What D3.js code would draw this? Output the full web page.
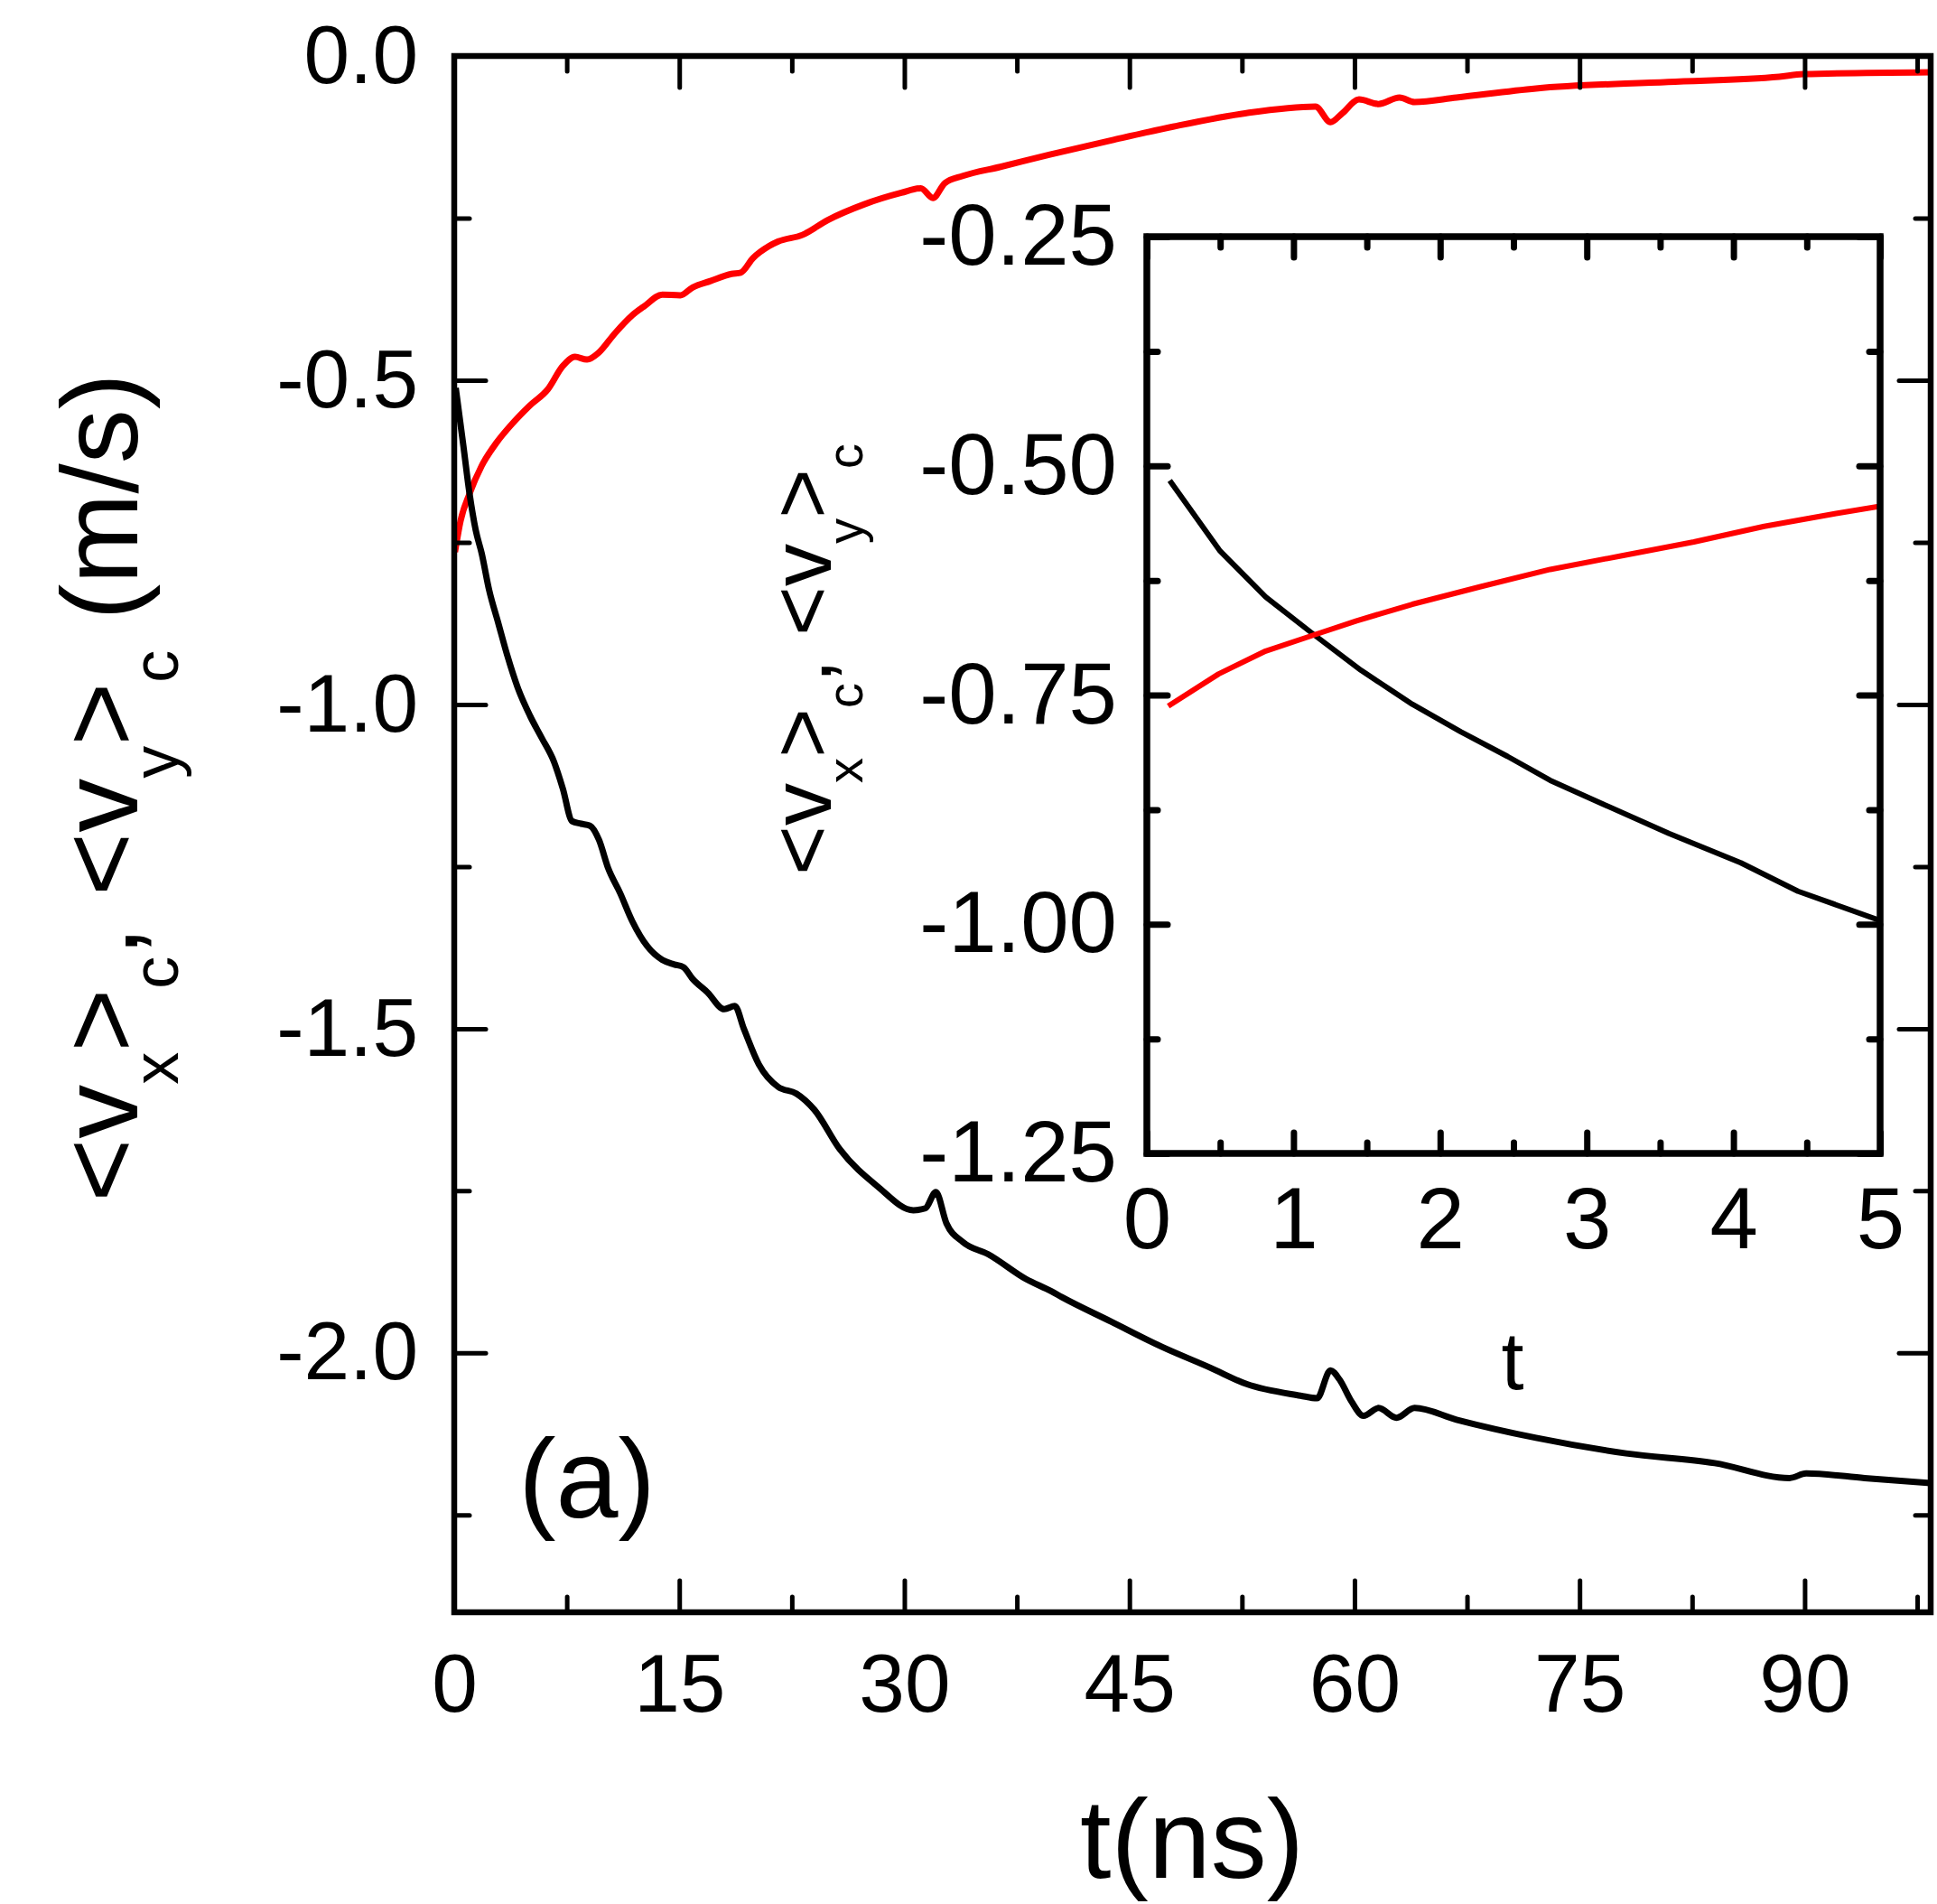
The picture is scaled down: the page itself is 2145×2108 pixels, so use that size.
<!DOCTYPE html>
<html>
<head>
<meta charset="utf-8">
<script src="https://cdn.jsdelivr.net/npm/d3@7"></script>
<style>
	body { margin: 0; background: #fff; }
	text { font-family: "Liberation Sans", Arial, sans-serif; fill: #000; }
</style>
</head>
<body>
<svg></svg>
<script>
// main curves, t in ns, velocity in m/s
const blackT = [0.1, 0.62, 1.02, 1.43, 1.83, 2.33, 2.93, 3.53, 4.23, 5.04, 5.84, 6.64, 7.24, 7.85, 8.45, 9.05, 9.65, 10.25, 11.06, 11.86, 12.87, 13.87, 14.67, 15.27, 15.88, 16.88, 18.0, 18.7, 19.3, 20.3, 21.6, 22.8, 24.0, 25.7, 28.2, 30.6, 31.4, 32.1, 32.8, 33.9, 35.6, 38.1, 39.8, 40.5, 43.8, 47.1, 50.4, 52.8, 56.4, 57.5, 58.4, 59.0, 59.8, 60.6, 61.6, 62.8, 64.0, 66.8, 72.1, 78.1, 84.0, 89.0, 90.1, 94.0, 98.4];
const blackV = [-0.512, -0.603, -0.675, -0.731, -0.767, -0.824, -0.874, -0.924, -0.974, -1.017, -1.052, -1.088, -1.13, -1.18, -1.184, -1.187, -1.209, -1.252, -1.291, -1.334, -1.373, -1.394, -1.401, -1.405, -1.423, -1.444, -1.47, -1.465, -1.5, -1.555, -1.59, -1.6, -1.625, -1.686, -1.743, -1.78, -1.777, -1.752, -1.8, -1.829, -1.848, -1.886, -1.905, -1.914, -1.952, -1.99, -2.023, -2.048, -2.066, -2.07, -2.027, -2.041, -2.075, -2.097, -2.085, -2.1, -2.085, -2.103, -2.131, -2.155, -2.17, -2.193, -2.186, -2.193, -2.201];
const redT = [0.05, 0.42, 1.02, 1.83, 2.83, 3.83, 5.04, 6.24, 7.24, 8.05, 8.85, 9.65, 10.66, 11.86, 12.66, 13.87, 15.07, 15.88, 17.08, 18.48, 19.1, 19.9, 21.0, 21.6, 23.2, 24.9, 27.3, 29.8, 31.1, 31.9, 32.7, 33.9, 36.4, 39.7, 43.8, 47.9, 52.8, 57.4, 58.4, 59.2, 60.3, 61.6, 63.0, 64.0, 66.8, 72.1, 80.9, 88.3, 89.9, 98.4];
const redV = [-0.765, -0.717, -0.675, -0.632, -0.596, -0.568, -0.539, -0.514, -0.478, -0.464, -0.468, -0.457, -0.429, -0.4, -0.386, -0.368, -0.369, -0.357, -0.347, -0.336, -0.334, -0.312, -0.293, -0.286, -0.276, -0.253, -0.229, -0.211, -0.204, -0.219, -0.196, -0.185, -0.171, -0.152, -0.13, -0.109, -0.088, -0.078, -0.102, -0.088, -0.067, -0.074, -0.064, -0.071, -0.064, -0.05, -0.04, -0.032, -0.028, -0.025];

// inset curves
const insetBlackT = [0.156, 0.5, 0.81, 1.13, 1.46, 1.81, 2.14, 2.46, 2.75, 3.11, 3.56, 4.05, 4.44, 5.0];
const insetBlackV = [-0.516, -0.593, -0.643, -0.683, -0.723, -0.76, -0.79, -0.817, -0.843, -0.869, -0.901, -0.933, -0.964, -0.996];
const insetRedT = [0.146, 0.49, 0.81, 1.13, 1.43, 1.81, 2.27, 2.75, 3.24, 3.73, 4.21, 4.7, 5.0];
const insetRedV = [-0.762, -0.727, -0.702, -0.685, -0.669, -0.651, -0.632, -0.613, -0.598, -0.583, -0.566, -0.552, -0.544];

// ticks
const mainXTicks = [0, 15, 30, 45, 60, 75, 90];
const mainXMinor = [7.5, 22.5, 37.5, 52.5, 67.5, 82.5, 97.5];
const mainYTicks = [0, -0.5, -1.0, -1.5, -2.0];
const mainYMinor = [-0.25, -0.75, -1.25, -1.75, -2.25];
const insetXTicks = [0, 1, 2, 3, 4, 5];
const insetXMinor = [0.5, 1.5, 2.5, 3.5, 4.5];
const insetYTicks = [-0.25, -0.5, -0.75, -1.0, -1.25];
const insetYMinor = [-0.375, -0.625, -0.875, -1.125];

const size = { w: 2145, h: 2108 };
const main = { l: 503, r: 2138, t: 62, b: 1785 };
const inset = { l: 1270, r: 2082, t: 262, b: 1277 };

const svg = d3.select("svg").attr("width", size.w).attr("height", size.h);
svg.append("rect").attr("width", size.w).attr("height", size.h).attr("fill", "#fff");

const zip = (ts, vs) => ts.map((t, i) => [t, vs[i]]);

function drawPanel(box, xDom, yDom, opt) {
	const g = svg.append("g");
	const x = d3.scaleLinear().domain(xDom).range([box.l, box.r]);
	const y = d3.scaleLinear().domain(yDom).range([box.b, box.t]);

	g.append("rect")
		.attr("x", box.l).attr("y", box.t)
		.attr("width", box.r - box.l).attr("height", box.b - box.t)
		.attr("fill", "#fff");

	const clipId = "clip" + opt.name;
	g.append("clipPath").attr("id", clipId).append("rect")
		.attr("x", box.l).attr("y", box.t)
		.attr("width", box.r - box.l).attr("height", box.b - box.t);

	const line = d3.line().curve(opt.curve).x((d) => x(d[0])).y((d) => y(d[1]));
	opt.series.forEach((s) => {
		g.append("path")
			.attr("clip-path", `url(#${clipId})`)
			.attr("d", line(s.data))
			.attr("fill", "none")
			.attr("stroke", s.color)
			.attr("stroke-width", opt.curveW)
			.attr("stroke-linejoin", "round");
	});

	// ticks on all four sides, pointing inward
	const axes = [
		{ a: d3.axisBottom(x), pos: `translate(0,${box.b})`, vals: opt.xTicks, minor: opt.xMinor, label: true },
		{ a: d3.axisTop(x), pos: `translate(0,${box.t})`, vals: opt.xTicks, minor: opt.xMinor, label: false },
		{ a: d3.axisLeft(y), pos: `translate(${box.l},0)`, vals: opt.yTicks, minor: opt.yMinor, label: true },
		{ a: d3.axisRight(y), pos: `translate(${box.r},0)`, vals: opt.yTicks, minor: opt.yMinor, label: false }
	];
	axes.forEach((ax, i) => {
		const isX = i < 2;
		const major = ax.a
			.tickValues(ax.vals)
			.tickSizeInner(-opt.majorLen)
			.tickSizeOuter(0)
			.tickPadding(isX ? opt.xPad : opt.yPad)
			.tickFormat(ax.label ? (isX ? opt.xFmt : opt.yFmt) : "");
		const ag = g.append("g").attr("transform", ax.pos).call(major);
		ag.select(".domain").remove();
		ag.selectAll("line").attr("stroke-width", opt.tickW).attr("stroke-linecap", "round");
		ag.selectAll("text")
			.attr("font-size", opt.fontSize)
			.attr("font-family", '"Liberation Sans", Arial, sans-serif')
			.attr("fill", "#000");

		const minorAxis = (i === 0 ? d3.axisBottom(x) : i === 1 ? d3.axisTop(x) : i === 2 ? d3.axisLeft(y) : d3.axisRight(y))
			.tickValues(ax.minor)
			.tickSizeInner(-opt.minorLen)
			.tickSizeOuter(0)
			.tickFormat("");
		const mg = g.append("g").attr("transform", ax.pos).call(minorAxis);
		mg.select(".domain").remove();
		mg.selectAll("line").attr("stroke-width", opt.tickW).attr("stroke-linecap", "round");
	});

	g.append("rect")
		.attr("x", box.l).attr("y", box.t)
		.attr("width", box.r - box.l).attr("height", box.b - box.t)
		.attr("fill", "none")
		.attr("stroke", "#000")
		.attr("stroke-width", opt.frameW);

	return { x, y, g };
}

drawPanel(main, [0, 98.4], [-2.4, 0], {
	name: "main",
	series: [
		{ data: zip(redT, redV), color: "#ff0000" },
		{ data: zip(blackT, blackV), color: "#000" }
	],
	curve: d3.curveMonotoneX,
	curveW: 7,
	xTicks: mainXTicks, xMinor: mainXMinor,
	yTicks: mainYTicks, yMinor: mainYMinor,
	majorLen: 35, minorLen: 17,
	tickW: 5, frameW: 6.5,
	fontSize: 91, xPad: 45, yPad: 40,
	xFmt: d3.format("d"), yFmt: d3.format(".1f")
});

drawPanel(inset, [0, 5], [-1.25, -0.25], {
	name: "inset",
	series: [
		{ data: zip(insetBlackT, insetBlackV), color: "#000" },
		{ data: zip(insetRedT, insetRedV), color: "#ff0000" }
	],
	curve: d3.curveLinear,
	curveW: 6,
	xTicks: insetXTicks, xMinor: insetXMinor,
	yTicks: insetYTicks, yMinor: insetYMinor,
	majorLen: 23, minorLen: 12,
	tickW: 7, frameW: 7.5,
	fontSize: 96, xPad: 37, yPad: 33,
	xFmt: d3.format("d"), yFmt: d3.format(".2f")
});

// hyphen-minus instead of the unicode minus d3 uses
svg.selectAll(".tick text").text(function () { return d3.select(this).text().replace("\u2212", "-"); });

// label with subscripts
function richLabel(x, y, rotate, parts, fs, subFs, shift) {
	const t = svg.append("text")
		.attr("transform", `translate(${x},${y}) rotate(${rotate})`)
		.attr("text-anchor", "middle")
		.attr("font-size", fs);
	let down = false;
	parts.forEach(([s, sub]) => {
		const sp = t.append("tspan").text(s).attr("font-size", sub ? subFs : fs);
		if (sub && !down) { sp.attr("dy", shift); down = true; }
		else if (!sub && down) { sp.attr("dy", -shift); down = false; }
	});
	return t;
}

const yParts = [["<v", false], ["x", true], [">", false], ["c", true], [", <v", false], ["y", true], [">", false], ["c", true], [" (m/s)", false]];
richLabel(152, 872, -90, yParts, 120, 72, 45).style("white-space", "pre");

const insetParts = [["<v", false], ["x", true], [">", false], ["c", true], [", <v", false], ["y", true], [">", false], ["c", true]];
richLabel(920, 730, -90, insetParts, 94, 56, 35).style("white-space", "pre");

svg.append("text").attr("x", 1320).attr("y", 2079).attr("text-anchor", "middle").attr("font-size", 124).text("t(ns)");
svg.append("text").attr("x", 1675).attr("y", 1538).attr("text-anchor", "middle").attr("font-size", 90).text("t");
svg.append("text").attr("x", 650).attr("y", 1680).attr("text-anchor", "middle").attr("font-size", 124).text("(a)");
</script>
</body>
</html>
